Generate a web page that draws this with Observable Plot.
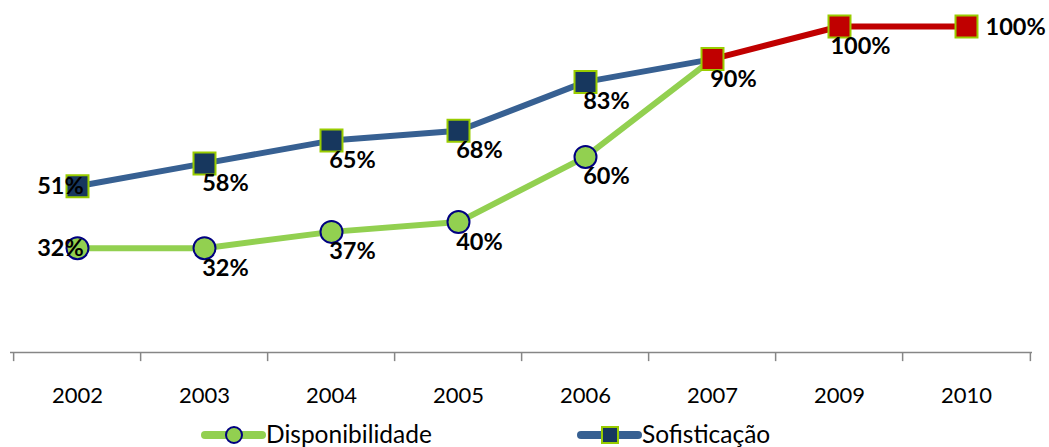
<!DOCTYPE html>
<html><head><meta charset="utf-8">
<script src="https://cdn.jsdelivr.net/npm/d3@7"></script>
<script src="https://cdn.jsdelivr.net/npm/@observablehq/plot@0.6"></script>
<style>
body{margin:0;background:#fff;font-family:Lato,sans-serif;}
#chart{width:1049px;height:418px;}
#legend{position:relative;width:1049px;height:29px;}
#legend .sw{position:absolute;top:0;}
#legend .lbl{position:absolute;top:1px;line-height:29px;font-size:24.5px;color:#000;white-space:nowrap;}
</style></head><body>
<div id="chart"></div>
<div id="legend"></div>
<script>
const years = ["2002","2003","2004","2005","2006","2007","2009","2010"];
const disponibilidade = [32,32,37,40,60,90,100,100];
const sofisticacao = [51,58,65,68,83,90,100,100];
const seriesNames = ["Disponibilidade","Sofisticação"];

const GREEN = "#92D050", NAVY = "#000080", BLUE = "#376092", DARK = "#17375E", LIME = "#99CC00", RED = "#C00000";

const disp = years.map((year,i)=>({year, value: disponibilidade[i], i}));
const sof = years.map((year,i)=>({year, value: sofisticacao[i], i}));
const split = years.indexOf("2007");
const last = years.length - 1;
const W = 1049, H = 418, mL = 10, mR = 17, mT = 26, mB = 66;
const step = (W - mL - mR) / years.length;

const labels = [
  ...disp.filter(d => d.i < split),
  ...sof
].map(d => ({...d, text: d.value + "%"}));

const lab = (filter, opts) => Plot.text(labels.filter(filter), {
  x: "year", y: "value", text: "text", fontSize: 23.5, fontWeight: "bold", fill: "#000", ...opts
});

const chart = Plot.plot({
  width: W, height: H,
  marginLeft: mL, marginRight: mR, marginTop: mT, marginBottom: mB,
  style: {fontFamily: "Lato, sans-serif", fontSize: "22px", color: "#000", background: "#fff"},
  x: {type: "point", domain: years, padding: 0.5, tickSize: 0, tickPadding: 35, label: null},
  y: {domain: [0, 100], axis: null},
  marks: [
    Plot.ruleY([0], {stroke: "#868686", strokeWidth: 1.5}),
    Plot.ruleX(years, {x: d => d, y1: 0, y2: -2.8, dx: -step / 2, stroke: "#868686", strokeWidth: 1.5}),
    Plot.ruleX([years[last]], {x: d => d, y1: 0, y2: -2.8, dx: step / 2, stroke: "#868686", strokeWidth: 1.5}),
    Plot.line(disp.filter(d => d.i <= split), {x: "year", y: "value", stroke: GREEN, strokeWidth: 6}),
    Plot.line(sof.filter(d => d.i <= split), {x: "year", y: "value", stroke: BLUE, strokeWidth: 6}),
    Plot.line(sof.filter(d => d.i >= split), {x: "year", y: "value", stroke: RED, strokeWidth: 6}),
    Plot.dot(disp.filter(d => d.i < split), {x: "year", y: "value", r: 11, fill: GREEN, stroke: NAVY, strokeWidth: 2}),
    Plot.dot(sof.filter(d => d.i < split), {x: "year", y: "value", symbol: "square", r: 12.4, fill: DARK, stroke: LIME, strokeWidth: 2}),
    Plot.dot(sof.filter(d => d.i >= split), {x: "year", y: "value", symbol: "square", r: 12.4, fill: RED, stroke: LIME, strokeWidth: 2}),
    lab(d => d.i === 0, {dx: -17, dy: 0}),
    lab(d => d.i > 0 && d.i < last, {dx: 21, dy: 20}),
    lab(d => d.i === last, {textAnchor: "start", dx: 19, dy: 1})
  ]
});
document.getElementById("chart").appendChild(chart);

// Legend
const legend = document.getElementById("legend");
const items = [
  {name: seriesNames[0], left: 200, text: 266, marker: "circle", line: GREEN},
  {name: seriesNames[1], left: 576, text: 642, marker: "square", line: BLUE}
];
for (const it of items) {
  const svg = d3.create("svg").attr("class", "sw").attr("width", 66).attr("height", 29)
    .style("left", it.left + "px");
  svg.append("line").attr("x1", 5).attr("x2", 62).attr("y1", 17).attr("y2", 17)
    .attr("stroke", it.line).attr("stroke-width", 8).attr("stroke-linecap", "round");
  if (it.marker === "circle") {
    svg.append("circle").attr("cx", 34).attr("cy", 17).attr("r", 8)
      .attr("fill", GREEN).attr("stroke", NAVY).attr("stroke-width", 2);
  } else {
    svg.append("rect").attr("x", 34 - 8).attr("y", 17 - 8).attr("width", 16).attr("height", 16)
      .attr("fill", DARK).attr("stroke", LIME).attr("stroke-width", 2);
  }
  legend.appendChild(svg.node());
  const s = document.createElement("span");
  s.className = "lbl"; s.style.left = it.text + "px"; s.textContent = it.name;
  legend.appendChild(s);
}
</script>
</body></html>
